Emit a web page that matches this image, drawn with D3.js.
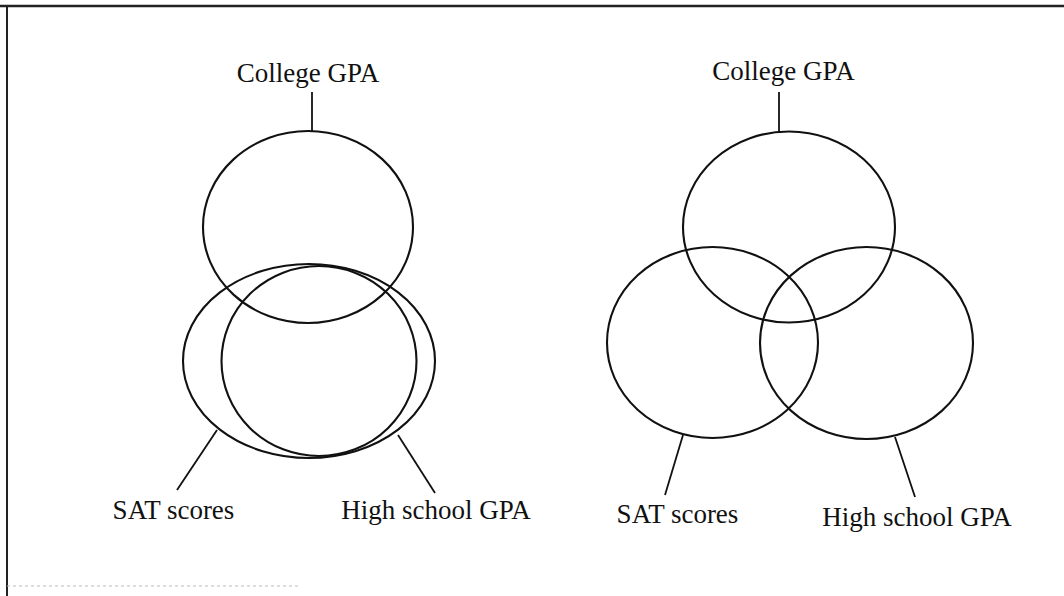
<!DOCTYPE html>
<html>
<head>
<meta charset="utf-8">
<script src="https://cdn.jsdelivr.net/npm/d3@7"></script>
<style>
    html, body { margin: 0; padding: 0; background: #fff; }
    svg { display: block; }
    .venn-ellipse { fill: none; stroke: #111; stroke-width: 2.1px; }
    .venn-leader { stroke: #111; stroke-width: 1.8px; }
    .venn-label { font-family: 'Liberation Serif', 'Times New Roman', serif; font-size: 27px; fill: #111; }
</style>
</head>
<body>
<svg id="venn" width="1064" height="596"></svg>
<script>
'use strict';

// set names, same order in both diagrams
var setNames = ['College GPA', 'SAT scores', 'High school GPA'];

// diagram units: 1 unit = radius-ish of a set, origin at College GPA centre
// left diagram (SAT and high school GPA almost fully overlap)
var leftCentres = [[0, 0], [0.01, 1.34], [0.11, 1.34]];
var leftRadii = [[1.05, 0.96], [1.26, 0.97], [0.975, 0.95]];
var leftLeaders = [[0.04, -0.96, 0.04, -1.35], [-0.91, 2.03, -1.31, 2.63], [0.90, 2.08, 1.27, 2.66]];
var leftLabels = [[0, -1.45], [-1.345, 2.92], [1.28, 2.92]];

// right diagram (classic three-way venn)
var rightCentres = [[0, 0], [-0.765, 1.155], [0.775, 1.16]];
var rightRadii = [[1.06, 0.955], [1.055, 0.955], [1.065, 0.96]];
var rightLeaders = [[-0.10, -0.95, -0.10, -1.35], [-1.06, 2.08, -1.24, 2.68], [1.06, 2.10, 1.26, 2.70]];
var rightLabels = [[-0.055, -1.47], [-1.115, 2.96], [1.28, 2.99]];

var width = 1064,
    height = 596;

function makeSets (centres, radii, leaders, labels) {
    return setNames.map(function (name, i) {
        return {
            name: name,
            cx: centres[i][0],
            cy: centres[i][1],
            rx: radii[i][0],
            ry: radii[i][1],
            leader: leaders[i],
            label: labels[i]
        };
    });
}

function drawPanel (svg, sets, originX, originY) {
    var unit = 100;
    var x = d3.scaleLinear().domain([0, 1]).range([originX, originX + unit]);
    var y = d3.scaleLinear().domain([0, 1]).range([originY, originY + unit]);
    var g = svg.append('g');

    g.selectAll('ellipse')
        .data(sets)
        .enter().append('ellipse')
            .attr('class', 'venn-ellipse')
            .attr('cx', function (d) { return x(d.cx); })
            .attr('cy', function (d) { return y(d.cy); })
            .attr('rx', function (d) { return x(d.rx) - x(0); })
            .attr('ry', function (d) { return y(d.ry) - y(0); });

    g.selectAll('line')
        .data(sets)
        .enter().append('line')
            .attr('class', 'venn-leader')
            .attr('x1', function (d) { return x(d.leader[0]); })
            .attr('y1', function (d) { return y(d.leader[1]); })
            .attr('x2', function (d) { return x(d.leader[2]); })
            .attr('y2', function (d) { return y(d.leader[3]); });

    g.selectAll('text')
        .data(sets)
        .enter().append('text')
            .attr('class', 'venn-label')
            .attr('text-anchor', 'middle')
            .attr('x', function (d) { return x(d.label[0]); })
            .attr('y', function (d) { return y(d.label[1]); })
            .text(function (d) { return d.name; });
}

var svg = d3.select('#venn');

// scanned frame: heavy top and left edge, faint bottom
svg.append('line')
    .attr('x1', 0).attr('y1', 6).attr('x2', width).attr('y2', 6)
    .style('stroke', '#222').style('stroke-width', 2.5);
svg.append('line')
    .attr('x1', 7).attr('y1', 5).attr('x2', 7).attr('y2', height)
    .style('stroke', '#222').style('stroke-width', 2);
svg.append('line')
    .attr('x1', 7).attr('y1', 586).attr('x2', 300).attr('y2', 586)
    .style('stroke', '#bbb').style('stroke-width', 1)
    .style('stroke-dasharray', '3,3');

drawPanel(svg, makeSets(leftCentres, leftRadii, leftLeaders, leftLabels), 308, 227);
drawPanel(svg, makeSets(rightCentres, rightRadii, rightLeaders, rightLabels), 789, 227);
</script>
</body>
</html>
